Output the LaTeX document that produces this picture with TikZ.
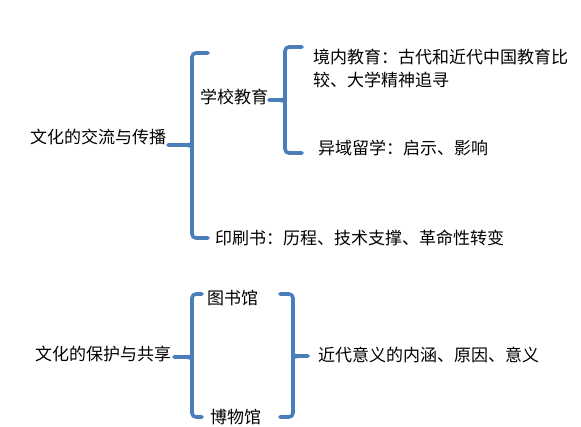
\documentclass[tikz,border=0pt]{standalone}
\usepackage{fontspec}
\setmainfont{Noto Sans CJK SC}
\definecolor{bracketblue}{RGB}{74,126,187}
\tikzset{
  bracket/.style={draw=bracketblue, line width=3.6pt, rounded corners=4pt, line cap=round},
  item/.style={anchor=west, inner sep=0pt, font=\fontsize{17}{23}\selectfont}
}
\begin{document}
\begin{tikzpicture}[x=1pt, y=-1pt]
        \useasboundingbox (0,0) rectangle (581,426);

        % upper part: exchange and spread
        \node[item] (jiaoliu) at (30,137) {文化的交流与传播};
        \node[item] (xuexiao) at (200,97) {学校教育};
        \node[item, align=left] (jingnei) at (313,68) {境内教育：古代和近代中国教育比\\较、大学精神追寻};
        \node[item] (yiyu) at (318,148) {异域留学：启示、影响};
        \node[item] (yinshua) at (215,238) {印刷书：历程、技术支撑、革命性转变};

        % big bracket
        \draw[bracket] (208,53) -- (192,53) -- (192,140) to[out=-90,in=0] (186,145) -- (168,145);
        \draw[bracket] (208,238) -- (192,238) -- (192,150) to[out=90,in=0] (186,145);

        % bracket of school education
        \draw[bracket] (302,47) -- (285,47) -- (285,95) to[out=-90,in=0] (279,100) -- (269,100);
        \draw[bracket] (302,153) -- (285,153) -- (285,105) to[out=90,in=0] (279,100);

        % lower part: protection and sharing
        \node[item] (baohu) at (35,354) {文化的保护与共享};
        \node[item] (tushu) at (207,298) {图书馆};
        \node[item] (bowu) at (210,417) {博物馆};
        \node[item] (yiyi) at (318,355) {近代意义的内涵、原因、意义};

        \draw[bracket] (202,294) -- (192,294) -- (192,352) to[out=-90,in=0] (186,357) -- (174,357);
        \draw[bracket] (202,417) -- (192,417) -- (192,362) to[out=90,in=0] (186,357);

        \draw[bracket] (280,294) -- (293,294) -- (293,351) to[out=-90,in=180] (299,356) -- (308,356);
        \draw[bracket] (280,417) -- (293,417) -- (293,361) to[out=90,in=180] (299,356);

    \end{tikzpicture}
\end{document}
